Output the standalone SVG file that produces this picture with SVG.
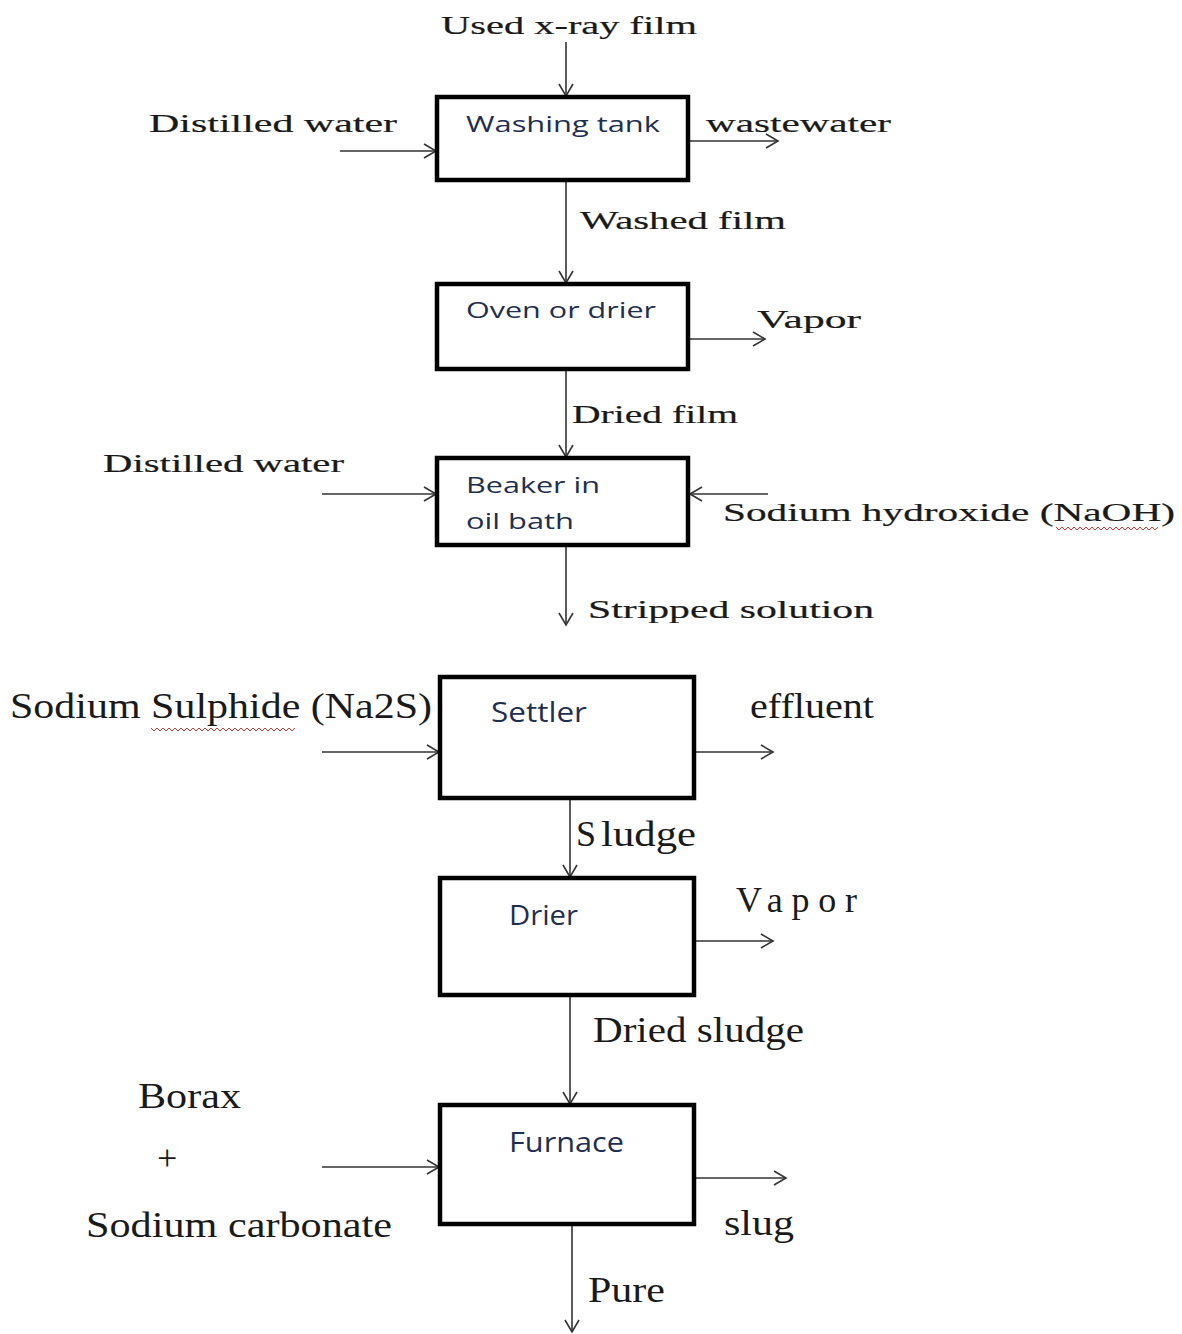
<svg xmlns="http://www.w3.org/2000/svg" width="1182" height="1334" viewBox="0 0 1182 1334">
<style>
.box{fill:#fff;stroke:#000;stroke-width:4.5}
.ln{fill:none;stroke:#333;stroke-width:1.6}
.up{font-family:"Liberation Serif",serif;font-size:26px;fill:#1a1a1a;stroke:#1a1a1a;stroke-width:0.2}
.lo{font-family:"Liberation Serif",serif;font-size:36px;fill:#1a1a1a}
.bx{font-family:"Open Sans","Liberation Sans",sans-serif;font-size:22px;fill:#1f2f4f}
.bx2{font-family:"Open Sans","Liberation Sans",sans-serif;font-size:27px;fill:#1f2f4f}
.sq{fill:none;stroke:#e03030;stroke-width:1}
</style>
<defs>
<marker id="ah" markerWidth="16" markerHeight="16" refX="13" refY="8" orient="auto" markerUnits="userSpaceOnUse">
<path d="M1,1 L13,8 L1,15" fill="none" stroke="#333" stroke-width="1.6"/>
</marker>
</defs>
<rect width="1182" height="1334" fill="#fff"/>
<g id="connectors">
<line class="ln" x1="566" y1="42" x2="566" y2="96" marker-end="url(#ah)"/>
<line class="ln" x1="340" y1="151" x2="436" y2="151" marker-end="url(#ah)"/>
<line class="ln" x1="690" y1="141" x2="778" y2="141" marker-end="url(#ah)"/>
<line class="ln" x1="566" y1="182" x2="566" y2="283" marker-end="url(#ah)"/>
<line class="ln" x1="690" y1="339" x2="765" y2="339" marker-end="url(#ah)"/>
<line class="ln" x1="566" y1="371" x2="566" y2="457" marker-end="url(#ah)"/>
<line class="ln" x1="322" y1="494" x2="436" y2="494" marker-end="url(#ah)"/>
<line class="ln" x1="768" y1="494" x2="690" y2="494" marker-end="url(#ah)"/>
<line class="ln" x1="566" y1="547" x2="566" y2="625" marker-end="url(#ah)"/>
<line class="ln" x1="322" y1="752" x2="439" y2="752" marker-end="url(#ah)"/>
<line class="ln" x1="696" y1="752" x2="773" y2="752" marker-end="url(#ah)"/>
<line class="ln" x1="570" y1="800" x2="570" y2="877" marker-end="url(#ah)"/>
<line class="ln" x1="696" y1="941" x2="773" y2="941" marker-end="url(#ah)"/>
<line class="ln" x1="570" y1="997" x2="570" y2="1104" marker-end="url(#ah)"/>
<line class="ln" x1="322" y1="1167" x2="439" y2="1167" marker-end="url(#ah)"/>
<line class="ln" x1="696" y1="1178" x2="786" y2="1178" marker-end="url(#ah)"/>
<line class="ln" x1="572" y1="1226" x2="572" y2="1332" marker-end="url(#ah)"/>
</g>
<g id="washing-tank">
<rect class="box" x="437" y="97" width="251" height="83"/>
<text class="bx" x="466" y="132" textLength="194" lengthAdjust="spacingAndGlyphs">Washing tank</text>
</g>
<g id="oven">
<rect class="box" x="437" y="284" width="251" height="85"/>
<text class="bx" x="466" y="318" textLength="190" lengthAdjust="spacingAndGlyphs">Oven or drier</text>
</g>
<g id="beaker">
<rect class="box" x="437" y="458" width="251" height="87"/>
<text class="bx" x="466" y="493" textLength="134" lengthAdjust="spacingAndGlyphs">Beaker in</text>
<text class="bx" x="466" y="529" textLength="108" lengthAdjust="spacingAndGlyphs">oil bath</text>
</g>
<g id="settler">
<rect class="box" x="440" y="677" width="254" height="121"/>
<text class="bx2" x="491" y="722" textLength="96" lengthAdjust="spacingAndGlyphs">Settler</text>
</g>
<g id="drier">
<rect class="box" x="440" y="878" width="254" height="117"/>
<text class="bx2" x="509" y="925" textLength="69" lengthAdjust="spacingAndGlyphs">Drier</text>
</g>
<g id="furnace">
<rect class="box" x="440" y="1105" width="254" height="119"/>
<text class="bx2" x="509" y="1152" textLength="115" lengthAdjust="spacingAndGlyphs">Furnace</text>
</g>
<g id="labels">
<text class="up" x="441" y="34" textLength="256" lengthAdjust="spacingAndGlyphs">Used x-ray film</text>
<text class="up" x="149" y="132" textLength="248" lengthAdjust="spacingAndGlyphs">Distilled water</text>
<text class="up" x="706" y="132" textLength="185" lengthAdjust="spacingAndGlyphs">wastewater</text>
<text class="up" x="580" y="229" textLength="206" lengthAdjust="spacingAndGlyphs">Washed film</text>
<text class="up" x="757" y="328" textLength="104" lengthAdjust="spacingAndGlyphs">Vapor</text>
<text class="up" x="572" y="423" textLength="166" lengthAdjust="spacingAndGlyphs">Dried film</text>
<text class="up" x="103" y="472" textLength="241" lengthAdjust="spacingAndGlyphs">Distilled water</text>
<text class="up" x="723" y="521" textLength="452" lengthAdjust="spacingAndGlyphs">Sodium hydroxide (NaOH)</text>
<text class="up" x="588" y="618" textLength="286" lengthAdjust="spacingAndGlyphs">Stripped solution</text>
<text class="lo" x="10" y="718" textLength="422" lengthAdjust="spacingAndGlyphs">Sodium Sulphide (Na2S)</text>
<text class="lo" x="750" y="718" textLength="124" lengthAdjust="spacingAndGlyphs">effluent</text>
<text class="lo" x="576" y="846" font-size="38"><tspan>S</tspan><tspan dx="5" textLength="95" lengthAdjust="spacingAndGlyphs">ludge</tspan></text>
<text class="lo" x="736" y="912" textLength="121" lengthAdjust="spacing">Vapor</text>
<text class="lo" x="593" y="1042" textLength="211" lengthAdjust="spacingAndGlyphs">Dried sludge</text>
<text class="lo" x="138" y="1108" textLength="103" lengthAdjust="spacingAndGlyphs">Borax</text>
<text class="lo" x="157" y="1170">+</text>
<text class="lo" x="86" y="1237" textLength="306" lengthAdjust="spacingAndGlyphs">Sodium carbonate</text>
<text class="lo" x="724" y="1235" textLength="70" lengthAdjust="spacingAndGlyphs">slug</text>
<text class="lo" x="588" y="1302" textLength="77" lengthAdjust="spacingAndGlyphs">Pure</text>
<path class="sq" d="M151,728 l3,3 l3,-3 l3,3 l3,-3 l3,3 l3,-3 l3,3 l3,-3 l3,3 l3,-3 l3,3 l3,-3 l3,3 l3,-3 l3,3 l3,-3 l3,3 l3,-3 l3,3 l3,-3 l3,3 l3,-3 l3,3 l3,-3 l3,3 l3,-3 l3,3 l3,-3 l3,3 l3,-3 l3,3 l3,-3 l3,3 l3,-3 l3,3 l3,-3 l3,3 l3,-3 l3,3 l3,-3 l3,3 l3,-3 l3,3 l3,-3 l3,3 l3,-3 l3,3 l3,-3"/>
<path class="sq" d="M1056,527 l3,3 l3,-3 l3,3 l3,-3 l3,3 l3,-3 l3,3 l3,-3 l3,3 l3,-3 l3,3 l3,-3 l3,3 l3,-3 l3,3 l3,-3 l3,3 l3,-3 l3,3 l3,-3 l3,3 l3,-3 l3,3 l3,-3 l3,3 l3,-3 l3,3 l3,-3 l3,3 l3,-3 l3,3 l3,-3 l3,3 l3,-3"/>
</g>
</svg>
